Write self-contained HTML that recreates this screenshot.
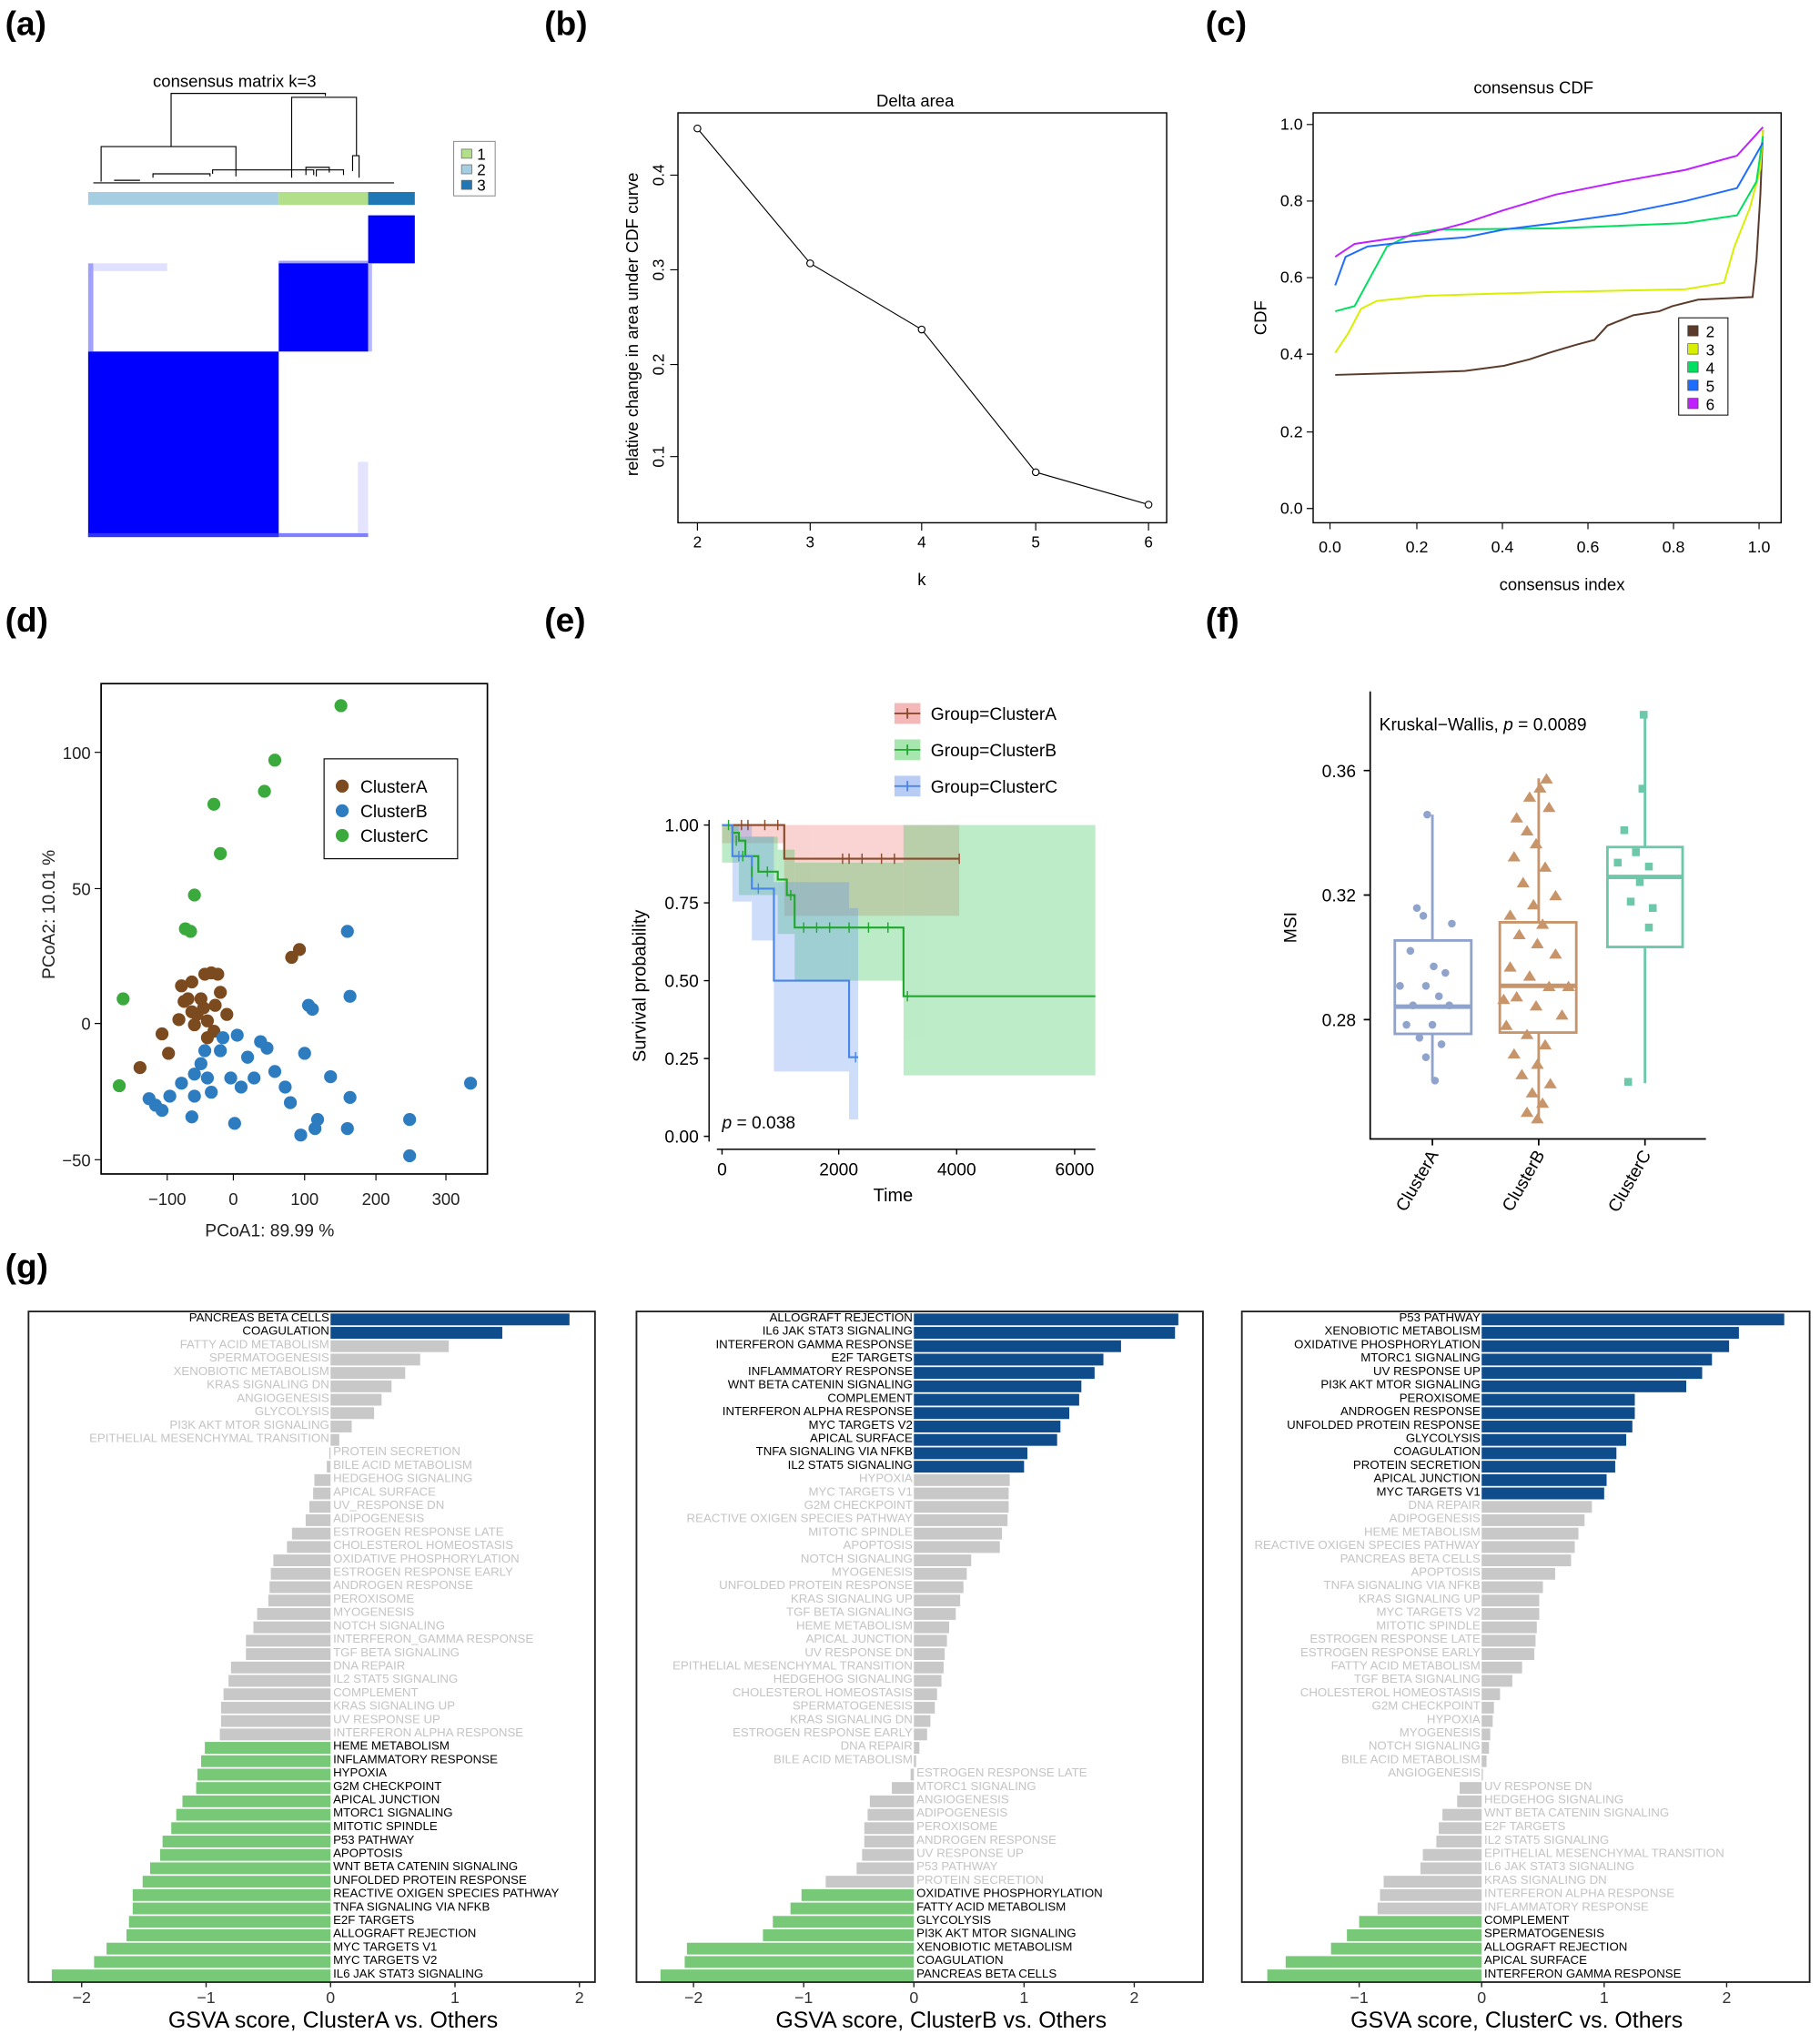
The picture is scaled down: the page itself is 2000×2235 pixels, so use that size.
<!DOCTYPE html>
<html><head><meta charset="utf-8"><style>
html,body{margin:0;padding:0;background:#fff}
svg{display:block}
text{font-family:"Liberation Sans",sans-serif}
.lab{font-size:26px;font-weight:bold}
.gs text{font-size:9.3px}
.e{text-anchor:end}
.g{fill:#c4c4c4}
</style></head><body>
<svg width="2000" height="2235" viewBox="0 0 1404 1568" preserveAspectRatio="none" xmlns="http://www.w3.org/2000/svg">
<rect width="1404" height="1568" fill="#fff"/>
<text class="lab" x="4" y="27">(a)</text>
<text class="lab" x="420" y="27">(b)</text>
<text class="lab" x="930" y="27">(c)</text>
<text class="lab" x="4" y="487">(d)</text>
<text class="lab" x="420" y="487">(e)</text>
<text class="lab" x="930" y="487">(f)</text>
<text class="lab" x="4" y="985">(g)</text>

<!-- (a) -->
<text x="181" y="67" font-size="13" text-anchor="middle">consensus matrix k=3</text>
<g stroke="#000" stroke-width="0.8" fill="none">
<path d="M132,113 V72 H251 V74"/>
<path d="M78,140 V113 H182 V136"/>
<path d="M225,137 V75 H275 V120"/>
<path d="M272,132 V120 H277 V137"/>
<path d="M118,137 V134 H162 V136"/>
<path d="M164,134 V131 H242 V135"/>
<path d="M236,135 V129 H254 V133"/>
<path d="M244,136 V131 H265 V135"/>
<path d="M72,141 H304 M88,139 H108"/>
</g>
<rect x="68" y="148" width="147" height="10" fill="#a6cee3"/>
<rect x="215" y="148" width="69" height="10" fill="#b2df8a"/>
<rect x="284" y="148" width="36" height="10" fill="#1f78b4"/>
<rect x="284" y="166" width="36" height="37" fill="#0000ff"/>
<rect x="215" y="201" width="69" height="3" fill="#a0a0ff"/>
<rect x="215" y="203" width="69" height="68" fill="#0000ff"/>
<rect x="284" y="203" width="3" height="68" fill="#b8b8ff"/>
<rect x="68" y="203" width="4" height="68" fill="#a0a0ff"/>
<rect x="72" y="203" width="57" height="6" fill="#e0e0ff"/>
<rect x="68" y="271" width="147" height="143" fill="#0000ff"/>
<rect x="215" y="411" width="69" height="3" fill="#8080ff"/>
<rect x="276" y="356" width="8" height="55" fill="#e4e4ff"/>
<rect x="68" y="411" width="147" height="3" fill="#3030ff"/>
<rect x="350" y="109" width="32" height="42" fill="#fff" stroke="#888" stroke-width="0.7"/>
<rect x="356" y="115" width="8" height="7" fill="#b2df8a" stroke="#666" stroke-width=".5"/>
<rect x="356" y="127" width="8" height="7" fill="#a6cee3" stroke="#666" stroke-width=".5"/>
<rect x="356" y="139" width="8" height="7" fill="#1f78b4" stroke="#666" stroke-width=".5"/>
<text x="368" y="123" font-size="12">1</text>
<text x="368" y="135" font-size="12">2</text>
<text x="368" y="147" font-size="12">3</text>

<!-- (b) -->
<text x="706" y="82" font-size="13" text-anchor="middle">Delta area</text>
<rect x="523" y="87" width="377" height="316" fill="none" stroke="#000" stroke-width="1"/>
<polyline points="538,99 625,203 711,254 799,364 886,389" fill="none" stroke="#000" stroke-width="0.8"/>
<g fill="#fff" stroke="#000" stroke-width="0.8">
<circle cx="538" cy="99" r="2.6"/><circle cx="625" cy="203" r="2.6"/><circle cx="711" cy="254" r="2.6"/><circle cx="799" cy="364" r="2.6"/><circle cx="886" cy="389" r="2.6"/></g>
<g stroke="#000" stroke-width="0.8"><path d="M538,403v6M625,403v6M711,403v6M799,403v6M886,403v6M523,135h-6M523,208h-6M523,281h-6M523,352h-6"/></g>
<g font-size="12" text-anchor="middle"><text x="538" y="422">2</text><text x="625" y="422">3</text><text x="711" y="422">4</text><text x="799" y="422">5</text><text x="886" y="422">6</text>
<text transform="translate(512,135) rotate(-90)">0.4</text><text transform="translate(512,208) rotate(-90)">0.3</text><text transform="translate(512,281) rotate(-90)">0.2</text><text transform="translate(512,352) rotate(-90)">0.1</text>
<text x="711" y="451" font-size="13">k</text>
<text transform="translate(492,250) rotate(-90)" font-size="13">relative change in area under CDF curve</text></g>

<!-- (c) -->
<text x="1183" y="72" font-size="13" text-anchor="middle">consensus CDF</text>
<rect x="1013" y="87" width="361" height="316" fill="none" stroke="#000" stroke-width="1"/>
<g stroke="#000" stroke-width="0.8"><path d="M1013,96h-5M1013,155h-5M1013,214h-5M1013,273h-5M1013,333h-5M1013,392h-5M1026,403v5M1093,403v5M1159,403v5M1225,403v5M1291,403v5M1357,403v5"/></g>
<g font-size="12.5"><g text-anchor="end"><text x="1005" y="100">1.0</text><text x="1005" y="159">0.8</text><text x="1005" y="218">0.6</text><text x="1005" y="277">0.4</text><text x="1005" y="337">0.2</text><text x="1005" y="396">0.0</text></g>
<g text-anchor="middle"><text x="1026" y="426">0.0</text><text x="1093" y="426">0.2</text><text x="1159" y="426">0.4</text><text x="1225" y="426">0.6</text><text x="1291" y="426">0.8</text><text x="1357" y="426">1.0</text>
<text x="1205" y="455" font-size="13">consensus index</text>
<text transform="translate(977,245) rotate(-90)" font-size="13">CDF</text></g></g>
<g fill="none" stroke-width="1.4">
<polyline stroke="#5a3a2a" points="1030,289 1100,287 1130,286 1160,282 1180,277 1195,272 1215,266 1230,262 1240,251 1260,243 1280,240 1290,236 1310,231 1352,229 1355,200 1358,150 1360,100"/>
<polyline stroke="#d8f000" points="1030,272 1040,257 1050,238 1062,232 1100,228 1200,225 1300,223 1330,218 1338,190 1350,160 1358,130 1360,100"/>
<polyline stroke="#00e060" points="1030,240 1045,236 1058,212 1070,190 1090,180 1110,177 1200,176 1300,172 1340,166 1355,140 1360,105"/>
<polyline stroke="#1e6cff" points="1030,220 1038,198 1055,190 1090,186 1130,183 1160,177 1200,172 1250,165 1300,155 1340,145 1360,110"/>
<polyline stroke="#c020ff" points="1030,198 1045,188 1100,180 1130,172 1160,162 1200,150 1250,140 1300,131 1340,120 1360,98"/>
</g>
<rect x="1295" y="245" width="38" height="75" fill="#fff" stroke="#000" stroke-width="0.7"/>
<g font-size="12" stroke="#333" stroke-width=".4">
<rect x="1302" y="251" width="8" height="8" fill="#5a3a2a"/><rect x="1302" y="265" width="8" height="8" fill="#d8f000"/><rect x="1302" y="279" width="8" height="8" fill="#00e060"/><rect x="1302" y="293" width="8" height="8" fill="#1e6cff"/><rect x="1302" y="307" width="8" height="8" fill="#c020ff"/></g>
<g font-size="12"><text x="1316" y="260">2</text><text x="1316" y="274">3</text><text x="1316" y="288">4</text><text x="1316" y="302">5</text><text x="1316" y="316">6</text></g>

<!-- (d) -->
<rect x="78" y="527" width="298" height="378" fill="none" stroke="#000" stroke-width="1.2"/>
<g stroke="#000" stroke-width="0.8"><path d="M78,580h-5M78,685h-5M78,789h-5M78,894h-5M129,905v5M180,905v5M235,905v5M290,905v5M344,905v5"/></g>
<g font-size="13" fill="#222"><g text-anchor="end"><text x="70" y="585">100</text><text x="70" y="690">50</text><text x="70" y="794">0</text><text x="70" y="899">−50</text></g>
<g text-anchor="middle"><text x="129" y="929">−100</text><text x="180" y="929">0</text><text x="235" y="929">100</text><text x="290" y="929">200</text><text x="344" y="929">300</text>
<text x="208" y="953" font-size="13.5">PCoA1:  89.99 %</text>
<text transform="translate(42,705) rotate(-90)" font-size="13.5">PCoA2:  10.01 %</text></g></g>
<g fill="#7b4a1e">
<circle cx="108" cy="823" r="5"/><circle cx="125" cy="797" r="5"/><circle cx="130" cy="812" r="5"/><circle cx="138" cy="786" r="5"/><circle cx="142" cy="772" r="5"/><circle cx="148" cy="780" r="5"/><circle cx="150" cy="790" r="5"/><circle cx="155" cy="770" r="5"/><circle cx="158" cy="751" r="5"/><circle cx="163" cy="750" r="5"/><circle cx="160" cy="800" r="5"/><circle cx="166" cy="775" r="5"/><circle cx="170" cy="765" r="5"/><circle cx="175" cy="782" r="5"/><circle cx="140" cy="760" r="5"/><circle cx="145" cy="770" r="5"/><circle cx="148" cy="757" r="5"/><circle cx="152" cy="782" r="5"/><circle cx="157" cy="777" r="5"/><circle cx="160" cy="787" r="5"/><circle cx="165" cy="795" r="5"/><circle cx="225" cy="738" r="5"/><circle cx="231" cy="732" r="5"/><circle cx="168" cy="751" r="5"/></g>
<g fill="#2e7cc0">
<circle cx="115" cy="847" r="5"/><circle cx="120" cy="852" r="5"/><circle cx="125" cy="856" r="5"/><circle cx="131" cy="845" r="5"/><circle cx="140" cy="835" r="5"/><circle cx="148" cy="861" r="5"/><circle cx="150" cy="828" r="5"/><circle cx="155" cy="820" r="5"/><circle cx="158" cy="810" r="5"/><circle cx="150" cy="845" r="5"/><circle cx="160" cy="831" r="5"/><circle cx="163" cy="842" r="5"/><circle cx="170" cy="810" r="5"/><circle cx="172" cy="800" r="5"/><circle cx="178" cy="831" r="5"/><circle cx="181" cy="866" r="5"/><circle cx="183" cy="798" r="5"/><circle cx="186" cy="838" r="5"/><circle cx="191" cy="815" r="5"/><circle cx="196" cy="831" r="5"/><circle cx="201" cy="803" r="5"/><circle cx="206" cy="808" r="5"/><circle cx="212" cy="826" r="5"/><circle cx="220" cy="838" r="5"/><circle cx="224" cy="850" r="5"/><circle cx="232" cy="875" r="5"/><circle cx="235" cy="812" r="5"/><circle cx="238" cy="775" r="5"/><circle cx="241" cy="778" r="5"/><circle cx="243" cy="870" r="5"/><circle cx="245" cy="863" r="5"/><circle cx="255" cy="830" r="5"/><circle cx="268" cy="718" r="5"/><circle cx="270" cy="768" r="5"/><circle cx="270" cy="846" r="5"/><circle cx="268" cy="870" r="5"/><circle cx="316" cy="863" r="5"/><circle cx="316" cy="891" r="5"/><circle cx="363" cy="835" r="5"/></g>
<g fill="#3aaa3c">
<circle cx="263" cy="544" r="5"/><circle cx="212" cy="586" r="5"/><circle cx="204" cy="610" r="5"/><circle cx="165" cy="620" r="5"/><circle cx="170" cy="658" r="5"/><circle cx="150" cy="690" r="5"/><circle cx="143" cy="716" r="5"/><circle cx="147" cy="718" r="5"/><circle cx="92" cy="837" r="5"/><circle cx="95" cy="770" r="5"/></g>
<rect x="250" y="585" width="103" height="77" fill="#fff" stroke="#000" stroke-width="0.8"/>
<circle cx="264" cy="606" r="5" fill="#7b4a1e"/><circle cx="264" cy="625" r="5" fill="#2e7cc0"/><circle cx="264" cy="644" r="5" fill="#3aaa3c"/>
<g font-size="13.5"><text x="278" y="611">ClusterA</text><text x="278" y="630">ClusterB</text><text x="278" y="649">ClusterC</text></g>

<!-- (e) -->
<rect x="690" y="542" width="20" height="16" fill="#f4b8b8"/><path d="M690,550h20M700,546v8" stroke="#8b4a2a" stroke-width="1.3"/>
<rect x="690" y="570" width="20" height="16" fill="#a8e6b0"/><path d="M690,578h20M700,574v8" stroke="#1fa82c" stroke-width="1.3"/>
<rect x="690" y="598" width="20" height="16" fill="#b8ccf4"/><path d="M690,606h20M700,602v8" stroke="#4a86e8" stroke-width="1.3"/>
<g font-size="13.5"><text x="718" y="555">Group=ClusterA</text><text x="718" y="583">Group=ClusterB</text><text x="718" y="611">Group=ClusterC</text></g>
<g opacity="0.35" fill="#f08080"><rect x="557" y="636" width="48" height="14"/><rect x="605" y="636" width="135" height="70"/></g>
<g opacity="0.35" fill="#40c860"><rect x="557" y="636" width="13" height="29"/><rect x="570" y="645" width="30" height="45"/><rect x="600" y="655" width="13" height="65"/><rect x="613" y="665" width="84" height="91"/><rect x="697" y="636" width="148" height="193"/></g>
<g opacity="0.3" fill="#6090f0"><rect x="565" y="636" width="15" height="59"/><rect x="580" y="645" width="17" height="80"/><rect x="597" y="680" width="58" height="146"/><rect x="655" y="700" width="7" height="163"/></g>
<g fill="none" stroke-width="1.5">
<path d="M557,636H605V662H740" stroke="#8b4a2a"/>
<path d="M557,636H565V642H570V648H575V660H585V672H600V678H607V690H613V715H697V768H845" stroke="#1fa82c"/>
<path d="M557,636H565V660H580V685H597V756H655V815H662" stroke="#4a86e8"/>
</g>
<g stroke-width="1" fill="none">
<path d="M572,632v8M577,632v8M590,632v8M600,632v8M650,658v8M655,658v8M665,658v8M680,658v8M690,658v8M740,658v8" stroke="#8b4a2a"/>
<path d="M562,632v8M568,644v8M573,656v8M580,668v8M592,668v8M610,686v8M620,711v8M630,711v8M640,711v8M655,711v8M670,711v8M685,711v8M700,764v8" stroke="#1fa82c"/>
<path d="M570,656v8M585,681v8M660,811v8" stroke="#4a86e8"/>
</g>
<g stroke="#000" stroke-width="1" fill="none"><path d="M547,632V880M553,886H845"/><path d="M547,636h-4M547,696h-4M547,756h-4M547,816h-4M547,876h-4M557,886v4M647,886v4M738,886v4M829,886v4"/></g>
<g font-size="13.5"><g text-anchor="end"><text x="539" y="641">1.00</text><text x="539" y="701">0.75</text><text x="539" y="761">0.50</text><text x="539" y="821">0.25</text><text x="539" y="881">0.00</text></g>
<g text-anchor="middle"><text x="557" y="906">0</text><text x="647" y="906">2000</text><text x="738" y="906">4000</text><text x="829" y="906">6000</text><text x="689" y="926" font-size="14">Time</text>
<text transform="translate(498,760) rotate(-90)" font-size="14">Survival probability</text></g>
<text x="557" y="870"><tspan font-style="italic">p</tspan> = 0.038</text></g>

<!-- (f) -->
<g stroke="#000" stroke-width="1.2" fill="none"><path d="M1057,533V878H1316"/><path d="M1057,594h-5M1057,690h-5M1057,786h-5M1105,878v5M1187,878v5M1269,878v5"/></g>
<g font-size="13.5"><g text-anchor="end"><text x="1046" y="599">0.36</text><text x="1046" y="695">0.32</text><text x="1046" y="791">0.28</text>
<text transform="translate(1110,890) rotate(-60)">ClusterA</text><text transform="translate(1192,890) rotate(-60)">ClusterB</text><text transform="translate(1274,890) rotate(-60)">ClusterC</text></g>
<text transform="translate(1000,715) rotate(-90)" text-anchor="middle">MSI</text>
<text x="1064" y="563">Kruskal−Wallis, <tspan font-style="italic">p</tspan> = 0.0089</text></g>
<g fill="none" stroke-width="2">
<g stroke="#8fa3cc"><rect x="1076" y="725" width="59" height="72"/><path d="M1105,725V628M1105,797V833"/><path d="M1076,776h59" stroke-width="3.5"/></g>
<g stroke="#c8956a"><rect x="1157" y="711" width="59" height="85"/><path d="M1187,711V600M1187,796V862"/><path d="M1157,760h59" stroke-width="3.5"/></g>
<g stroke="#6cc8a8"><rect x="1240" y="653" width="58" height="77"/><path d="M1269,653V551M1269,730V835"/><path d="M1240,676h58" stroke-width="3.5"/></g>
</g>
<g fill="#8fa3cc"><circle cx="1101" cy="628" r="3"/><circle cx="1093" cy="700" r="3"/><circle cx="1098" cy="706" r="3"/><circle cx="1120" cy="712" r="3"/><circle cx="1088" cy="733" r="3"/><circle cx="1106" cy="745" r="3"/><circle cx="1115" cy="750" r="3"/><circle cx="1080" cy="760" r="3"/><circle cx="1100" cy="760" r="3"/><circle cx="1110" cy="768" r="3"/><circle cx="1090" cy="775" r="3"/><circle cx="1118" cy="775" r="3"/><circle cx="1105" cy="790" r="3"/><circle cx="1095" cy="800" r="3"/><circle cx="1112" cy="805" r="3"/><circle cx="1100" cy="815" r="3"/><circle cx="1107" cy="833" r="3"/><circle cx="1085" cy="790" r="3"/></g>
<g fill="#c8956a">
<path d="M1193,596l5,8h-10z M1188,603l5,8h-10z M1180,610l5,8h-10z M1195,618l5,8h-10z M1170,626l5,8h-10z M1178,636l5,8h-10z M1185,646l5,8h-10z M1168,656l5,8h-10z M1192,664l5,8h-10z M1175,676l5,8h-10z M1200,686l5,8h-10z M1183,693l5,8h-10z M1165,701l5,8h-10z M1190,708l5,8h-10z M1172,716l5,8h-10z M1186,723l5,8h-10z M1200,731l5,8h-10z M1165,741l5,8h-10z M1180,748l5,8h-10z M1195,756l5,8h-10z M1170,764l5,8h-10z M1185,771l5,8h-10z M1205,778l5,8h-10z M1162,786l5,8h-10z M1178,793l5,8h-10z M1192,801l5,8h-10z M1168,808l5,8h-10z M1186,816l5,8h-10z M1174,824l5,8h-10z M1196,831l5,8h-10z M1182,838l5,8h-10z M1190,846l5,8h-10z M1178,853l5,8h-10z M1186,858l5,8h-10z M1210,756l5,8h-10z M1160,766l5,8h-10z"/></g>
<g fill="#6cc8a8"><rect x="1265" y="548" width="6" height="6"/><rect x="1264" y="605" width="6" height="6"/><rect x="1250" y="637" width="6" height="6"/><rect x="1259" y="654" width="6" height="6"/><rect x="1245" y="662" width="6" height="6"/><rect x="1269" y="665" width="6" height="6"/><rect x="1262" y="677" width="6" height="6"/><rect x="1255" y="692" width="6" height="6"/><rect x="1269" y="712" width="6" height="6"/><rect x="1272" y="697" width="6" height="6"/><rect x="1253" y="831" width="6" height="6"/></g>

<!-- (g) common frames -->
<g fill="none" stroke="#222" stroke-width="1.3">
<rect x="22" y="1011" width="437" height="517"/><rect x="491" y="1011" width="437" height="517"/><rect x="958" y="1011" width="438" height="517"/></g>
<g stroke="#222" stroke-width="1"><path d="M63,1528v4M159,1528v4M255,1528v4M351,1528v4M447,1528v4M535,1528v4M620,1528v4M705,1528v4M790,1528v4M875,1528v4M1048.5,1528v4M1143,1528v4M1237.5,1528v4M1332,1528v4"/></g>
<g font-size="12.5" fill="#333" text-anchor="middle">
<text x="63" y="1544">−2</text><text x="159" y="1544">−1</text><text x="255" y="1544">0</text><text x="351" y="1544">1</text><text x="447" y="1544">2</text>
<text x="535" y="1544">−2</text><text x="620" y="1544">−1</text><text x="705" y="1544">0</text><text x="790" y="1544">1</text><text x="875" y="1544">2</text>
<text x="1048.5" y="1544">−1</text><text x="1143" y="1544">0</text><text x="1237.5" y="1544">1</text><text x="1332" y="1544">2</text>
</g>
<g font-size="17.5" text-anchor="middle"><text x="257" y="1563">GSVA score, ClusterA vs. Others</text><text x="726" y="1563">GSVA score, ClusterB vs. Others</text><text x="1170" y="1563">GSVA score, ClusterC vs. Others</text></g>

<!-- g1 bars -->
<g transform="translate(255,1012.6) scale(96,10.32)">
<g fill="#0f4c8c"><rect x="0" y="0" width="1.92" height=".88"/><rect x="0" y="1" width="1.38" height=".88"/></g>
<g fill="#c8c8c8"><rect x="0" y="2" width=".95" height=".88"/><rect x="0" y="3" width=".72" height=".88"/><rect x="0" y="4" width=".6" height=".88"/><rect x="0" y="5" width=".49" height=".88"/><rect x="0" y="6" width=".41" height=".88"/><rect x="0" y="7" width=".35" height=".88"/><rect x="0" y="8" width=".17" height=".88"/><rect x="0" y="9" width=".07" height=".88"/>
<rect x="-.01" y="10" width=".01" height=".88"/><rect x="-.03" y="11" width=".03" height=".88"/><rect x="-.13" y="12" width=".13" height=".88"/><rect x="-.14" y="13" width=".14" height=".88"/><rect x="-.17" y="14" width=".17" height=".88"/><rect x="-.2" y="15" width=".2" height=".88"/><rect x="-.31" y="16" width=".31" height=".88"/><rect x="-.35" y="17" width=".35" height=".88"/><rect x="-.46" y="18" width=".46" height=".88"/><rect x="-.48" y="19" width=".48" height=".88"/><rect x="-.49" y="20" width=".49" height=".88"/><rect x="-.5" y="21" width=".5" height=".88"/><rect x="-.59" y="22" width=".59" height=".88"/><rect x="-.62" y="23" width=".62" height=".88"/><rect x="-.68" y="24" width=".68" height=".88"/><rect x="-.68" y="25" width=".68" height=".88"/><rect x="-.8" y="26" width=".8" height=".88"/><rect x="-.82" y="27" width=".82" height=".88"/><rect x="-.86" y="28" width=".86" height=".88"/><rect x="-.88" y="29" width=".88" height=".88"/><rect x="-.88" y="30" width=".88" height=".88"/><rect x="-.89" y="31" width=".89" height=".88"/></g>
<g fill="#77c977"><rect x="-1.01" y="32" width="1.01" height=".88"/><rect x="-1.04" y="33" width="1.04" height=".88"/><rect x="-1.07" y="34" width="1.07" height=".88"/><rect x="-1.08" y="35" width="1.08" height=".88"/><rect x="-1.19" y="36" width="1.19" height=".88"/><rect x="-1.24" y="37" width="1.24" height=".88"/><rect x="-1.28" y="38" width="1.28" height=".88"/><rect x="-1.35" y="39" width="1.35" height=".88"/><rect x="-1.37" y="40" width="1.37" height=".88"/><rect x="-1.45" y="41" width="1.45" height=".88"/><rect x="-1.51" y="42" width="1.51" height=".88"/><rect x="-1.59" y="43" width="1.59" height=".88"/><rect x="-1.59" y="44" width="1.59" height=".88"/><rect x="-1.62" y="45" width="1.62" height=".88"/><rect x="-1.64" y="46" width="1.64" height=".88"/><rect x="-1.8" y="47" width="1.8" height=".88"/><rect x="-1.9" y="48" width="1.9" height=".88"/><rect x="-2.24" y="49" width="2.24" height=".88"/></g>
</g>
<g class="gs" transform="translate(255,-2.5)">
<text class="e" x="-1" y="1021.2">PANCREAS BETA CELLS</text><text class="e" x="-1" y="1031.5">COAGULATION</text>
<g class="g"><text class="e" x="-1" y="1041.8">FATTY ACID METABOLISM</text><text class="e" x="-1" y="1052.2">SPERMATOGENESIS</text><text class="e" x="-1" y="1062.5">XENOBIOTIC METABOLISM</text><text class="e" x="-1" y="1072.8">KRAS SIGNALING DN</text><text class="e" x="-1" y="1083.1">ANGIOGENESIS</text><text class="e" x="-1" y="1093.4">GLYCOLYSIS</text><text class="e" x="-1" y="1103.8">PI3K AKT MTOR SIGNALING</text><text class="e" x="-1" y="1114.1">EPITHELIAL MESENCHYMAL TRANSITION</text>
<text x="2" y="1124.4">PROTEIN SECRETION</text><text x="2" y="1134.7">BILE ACID METABOLISM</text><text x="2" y="1145.0">HEDGEHOG SIGNALING</text><text x="2" y="1155.4">APICAL SURFACE</text><text x="2" y="1165.7">UV_RESPONSE DN</text><text x="2" y="1176.0">ADIPOGENESIS</text><text x="2" y="1186.3">ESTROGEN RESPONSE LATE</text><text x="2" y="1196.6">CHOLESTEROL HOMEOSTASIS</text><text x="2" y="1207.0">OXIDATIVE PHOSPHORYLATION</text><text x="2" y="1217.3">ESTROGEN RESPONSE EARLY</text><text x="2" y="1227.6">ANDROGEN RESPONSE</text><text x="2" y="1237.9">PEROXISOME</text><text x="2" y="1248.2">MYOGENESIS</text><text x="2" y="1258.6">NOTCH SIGNALING</text><text x="2" y="1268.9">INTERFERON_GAMMA RESPONSE</text><text x="2" y="1279.2">TGF BETA SIGNALING</text><text x="2" y="1289.5">DNA REPAIR</text><text x="2" y="1299.8">IL2 STAT5 SIGNALING</text><text x="2" y="1310.2">COMPLEMENT</text><text x="2" y="1320.5">KRAS SIGNALING UP</text><text x="2" y="1330.8">UV RESPONSE UP</text><text x="2" y="1341.1">INTERFERON ALPHA RESPONSE</text></g>
<text x="2" y="1351.4">HEME METABOLISM</text><text x="2" y="1361.8">INFLAMMATORY RESPONSE</text><text x="2" y="1372.1">HYPOXIA</text><text x="2" y="1382.4">G2M CHECKPOINT</text><text x="2" y="1392.7">APICAL JUNCTION</text><text x="2" y="1403.0">MTORC1 SIGNALING</text><text x="2" y="1413.4">MITOTIC SPINDLE</text><text x="2" y="1423.7">P53 PATHWAY</text><text x="2" y="1434.0">APOPTOSIS</text><text x="2" y="1444.3">WNT BETA CATENIN SIGNALING</text><text x="2" y="1454.6">UNFOLDED PROTEIN RESPONSE</text><text x="2" y="1465.0">REACTIVE OXIGEN SPECIES PATHWAY</text><text x="2" y="1475.3">TNFA SIGNALING VIA NFKB</text><text x="2" y="1485.6">E2F TARGETS</text><text x="2" y="1495.9">ALLOGRAFT REJECTION</text><text x="2" y="1506.2">MYC TARGETS V1</text><text x="2" y="1516.6">MYC TARGETS V2</text><text x="2" y="1526.9">IL6 JAK STAT3 SIGNALING</text>
</g>

<!-- g2 bars -->
<g transform="translate(705,1012.6) scale(85,10.32)">
<g fill="#0f4c8c"><rect x="0" y="0" width="2.4" height=".88"/><rect x="0" y="1" width="2.37" height=".88"/><rect x="0" y="2" width="1.88" height=".88"/><rect x="0" y="3" width="1.72" height=".88"/><rect x="0" y="4" width="1.64" height=".88"/><rect x="0" y="5" width="1.52" height=".88"/><rect x="0" y="6" width="1.5" height=".88"/><rect x="0" y="7" width="1.41" height=".88"/><rect x="0" y="8" width="1.33" height=".88"/><rect x="0" y="9" width="1.3" height=".88"/><rect x="0" y="10" width="1.03" height=".88"/><rect x="0" y="11" width="1.0" height=".88"/></g>
<g fill="#c8c8c8"><rect x="0" y="12" width=".87" height=".88"/><rect x="0" y="13" width=".86" height=".88"/><rect x="0" y="14" width=".86" height=".88"/><rect x="0" y="15" width=".85" height=".88"/><rect x="0" y="16" width=".8" height=".88"/><rect x="0" y="17" width=".78" height=".88"/><rect x="0" y="18" width=".52" height=".88"/><rect x="0" y="19" width=".48" height=".88"/><rect x="0" y="20" width=".45" height=".88"/><rect x="0" y="21" width=".42" height=".88"/><rect x="0" y="22" width=".38" height=".88"/><rect x="0" y="23" width=".32" height=".88"/><rect x="0" y="24" width=".3" height=".88"/><rect x="0" y="25" width=".28" height=".88"/><rect x="0" y="26" width=".27" height=".88"/><rect x="0" y="27" width=".25" height=".88"/><rect x="0" y="28" width=".21" height=".88"/><rect x="0" y="29" width=".19" height=".88"/><rect x="0" y="30" width=".15" height=".88"/><rect x="0" y="31" width=".12" height=".88"/><rect x="0" y="32" width=".05" height=".88"/><rect x="0" y="33" width=".02" height=".88"/>
<rect x="-.03" y="34" width=".03" height=".88"/><rect x="-.2" y="35" width=".2" height=".88"/><rect x="-.4" y="36" width=".4" height=".88"/><rect x="-.42" y="37" width=".42" height=".88"/><rect x="-.45" y="38" width=".45" height=".88"/><rect x="-.45" y="39" width=".45" height=".88"/><rect x="-.47" y="40" width=".47" height=".88"/><rect x="-.52" y="41" width=".52" height=".88"/><rect x="-.8" y="42" width=".8" height=".88"/></g>
<g fill="#77c977"><rect x="-1.02" y="43" width="1.02" height=".88"/><rect x="-1.12" y="44" width="1.12" height=".88"/><rect x="-1.28" y="45" width="1.28" height=".88"/><rect x="-1.37" y="46" width="1.37" height=".88"/><rect x="-2.06" y="47" width="2.06" height=".88"/><rect x="-2.08" y="48" width="2.08" height=".88"/><rect x="-2.3" y="49" width="2.3" height=".88"/></g>
</g>
<g class="gs" transform="translate(705,-2.5)">
<text class="e" x="-1" y="1021.2">ALLOGRAFT REJECTION</text><text class="e" x="-1" y="1031.5">IL6 JAK STAT3 SIGNALING</text><text class="e" x="-1" y="1041.8">INTERFERON GAMMA RESPONSE</text><text class="e" x="-1" y="1052.2">E2F TARGETS</text><text class="e" x="-1" y="1062.5">INFLAMMATORY RESPONSE</text><text class="e" x="-1" y="1072.8">WNT BETA CATENIN SIGNALING</text><text class="e" x="-1" y="1083.1">COMPLEMENT</text><text class="e" x="-1" y="1093.4">INTERFERON ALPHA RESPONSE</text><text class="e" x="-1" y="1103.8">MYC TARGETS V2</text><text class="e" x="-1" y="1114.1">APICAL SURFACE</text><text class="e" x="-1" y="1124.4">TNFA  SIGNALING VIA NFKB</text><text class="e" x="-1" y="1134.7">IL2 STAT5 SIGNALING</text>
<g class="g"><text class="e" x="-1" y="1145.0">HYPOXIA</text><text class="e" x="-1" y="1155.4">MYC TARGETS V1</text><text class="e" x="-1" y="1165.7">G2M CHECKPOINT</text><text class="e" x="-1" y="1176.0">REACTIVE OXIGEN SPECIES PATHWAY</text><text class="e" x="-1" y="1186.3">MITOTIC SPINDLE</text><text class="e" x="-1" y="1196.6">APOPTOSIS</text><text class="e" x="-1" y="1207.0">NOTCH SIGNALING</text><text class="e" x="-1" y="1217.3">MYOGENESIS</text><text class="e" x="-1" y="1227.6">UNFOLDED PROTEIN RESPONSE</text><text class="e" x="-1" y="1237.9">KRAS SIGNALING UP</text><text class="e" x="-1" y="1248.2">TGF BETA SIGNALING</text><text class="e" x="-1" y="1258.6">HEME METABOLISM</text><text class="e" x="-1" y="1268.9">APICAL JUNCTION</text><text class="e" x="-1" y="1279.2">UV RESPONSE DN</text><text class="e" x="-1" y="1289.5">EPITHELIAL MESENCHYMAL TRANSITION</text><text class="e" x="-1" y="1299.8">HEDGEHOG SIGNALING</text><text class="e" x="-1" y="1310.2">CHOLESTEROL HOMEOSTASIS</text><text class="e" x="-1" y="1320.5">SPERMATOGENESIS</text><text class="e" x="-1" y="1330.8">KRAS SIGNALING DN</text><text class="e" x="-1" y="1341.1">ESTROGEN RESPONSE EARLY</text><text class="e" x="-1" y="1351.4">DNA REPAIR</text><text class="e" x="-1" y="1361.8">BILE ACID METABOLISM</text>
<text x="2" y="1372.1">ESTROGEN RESPONSE LATE</text><text x="2" y="1382.4">MTORC1 SIGNALING</text><text x="2" y="1392.7">ANGIOGENESIS</text><text x="2" y="1403.0">ADIPOGENESIS</text><text x="2" y="1413.4">PEROXISOME</text><text x="2" y="1423.7">ANDROGEN RESPONSE</text><text x="2" y="1434.0">UV RESPONSE UP</text><text x="2" y="1444.3">P53 PATHWAY</text><text x="2" y="1454.6">PROTEIN SECRETION</text></g>
<text x="2" y="1465.0">OXIDATIVE PHOSPHORYLATION</text><text x="2" y="1475.3">FATTY ACID METABOLISM</text><text x="2" y="1485.6">GLYCOLYSIS</text><text x="2" y="1495.9">PI3K AKT MTOR SIGNALING</text><text x="2" y="1506.2">XENOBIOTIC METABOLISM</text><text x="2" y="1516.6">COAGULATION</text><text x="2" y="1526.9">PANCREAS BETA CELLS</text>
</g>

<!-- g3 bars -->
<g transform="translate(1143,1012.6) scale(94.5,10.32)">
<g fill="#0f4c8c"><rect x="0" y="0" width="2.47" height=".88"/><rect x="0" y="1" width="2.1" height=".88"/><rect x="0" y="2" width="2.02" height=".88"/><rect x="0" y="3" width="1.88" height=".88"/><rect x="0" y="4" width="1.8" height=".88"/><rect x="0" y="5" width="1.67" height=".88"/><rect x="0" y="6" width="1.25" height=".88"/><rect x="0" y="7" width="1.25" height=".88"/><rect x="0" y="8" width="1.23" height=".88"/><rect x="0" y="9" width="1.18" height=".88"/><rect x="0" y="10" width="1.1" height=".88"/><rect x="0" y="11" width="1.09" height=".88"/><rect x="0" y="12" width="1.02" height=".88"/><rect x="0" y="13" width="1.0" height=".88"/></g>
<g fill="#c8c8c8"><rect x="0" y="14" width=".9" height=".88"/><rect x="0" y="15" width=".84" height=".88"/><rect x="0" y="16" width=".79" height=".88"/><rect x="0" y="17" width=".76" height=".88"/><rect x="0" y="18" width=".73" height=".88"/><rect x="0" y="19" width=".6" height=".88"/><rect x="0" y="20" width=".5" height=".88"/><rect x="0" y="21" width=".47" height=".88"/><rect x="0" y="22" width=".47" height=".88"/><rect x="0" y="23" width=".45" height=".88"/><rect x="0" y="24" width=".44" height=".88"/><rect x="0" y="25" width=".43" height=".88"/><rect x="0" y="26" width=".33" height=".88"/><rect x="0" y="27" width=".25" height=".88"/><rect x="0" y="28" width=".15" height=".88"/><rect x="0" y="29" width=".1" height=".88"/><rect x="0" y="30" width=".09" height=".88"/><rect x="0" y="31" width=".07" height=".88"/><rect x="0" y="32" width=".06" height=".88"/><rect x="0" y="33" width=".04" height=".88"/><rect x="0" y="34" width=".01" height=".88"/>
<rect x="-.18" y="35" width=".18" height=".88"/><rect x="-.2" y="36" width=".2" height=".88"/><rect x="-.32" y="37" width=".32" height=".88"/><rect x="-.35" y="38" width=".35" height=".88"/><rect x="-.37" y="39" width=".37" height=".88"/><rect x="-.48" y="40" width=".48" height=".88"/><rect x="-.5" y="41" width=".5" height=".88"/><rect x="-.8" y="42" width=".8" height=".88"/><rect x="-.83" y="43" width=".83" height=".88"/><rect x="-.85" y="44" width=".85" height=".88"/></g>
<g fill="#77c977"><rect x="-1.0" y="45" width="1.0" height=".88"/><rect x="-1.1" y="46" width="1.1" height=".88"/><rect x="-1.23" y="47" width="1.23" height=".88"/><rect x="-1.6" y="48" width="1.6" height=".88"/><rect x="-1.75" y="49" width="1.75" height=".88"/></g>
</g>
<g class="gs" transform="translate(1143,-2.5)">
<text class="e" x="-1" y="1021.2">P53 PATHWAY</text><text class="e" x="-1" y="1031.5">XENOBIOTIC METABOLISM</text><text class="e" x="-1" y="1041.8">OXIDATIVE PHOSPHORYLATION</text><text class="e" x="-1" y="1052.2">MTORC1 SIGNALING</text><text class="e" x="-1" y="1062.5">UV RESPONSE UP</text><text class="e" x="-1" y="1072.8">PI3K AKT MTOR SIGNALING</text><text class="e" x="-1" y="1083.1">PEROXISOME</text><text class="e" x="-1" y="1093.4">ANDROGEN RESPONSE</text><text class="e" x="-1" y="1103.8">UNFOLDED PROTEIN RESPONSE</text><text class="e" x="-1" y="1114.1">GLYCOLYSIS</text><text class="e" x="-1" y="1124.4">COAGULATION</text><text class="e" x="-1" y="1134.7">PROTEIN SECRETION</text><text class="e" x="-1" y="1145.0">APICAL JUNCTION</text><text class="e" x="-1" y="1155.4">MYC TARGETS V1</text>
<g class="g"><text class="e" x="-1" y="1165.7">DNA REPAIR</text><text class="e" x="-1" y="1176.0">ADIPOGENESIS</text><text class="e" x="-1" y="1186.3">HEME METABOLISM</text><text class="e" x="-1" y="1196.6">REACTIVE OXIGEN SPECIES PATHWAY</text><text class="e" x="-1" y="1207.0">PANCREAS BETA CELLS</text><text class="e" x="-1" y="1217.3">APOPTOSIS</text><text class="e" x="-1" y="1227.6">TNFA SIGNALING VIA NFKB</text><text class="e" x="-1" y="1237.9">KRAS SIGNALING UP</text><text class="e" x="-1" y="1248.2">MYC TARGETS V2</text><text class="e" x="-1" y="1258.6">MITOTIC SPINDLE</text><text class="e" x="-1" y="1268.9">ESTROGEN RESPONSE LATE</text><text class="e" x="-1" y="1279.2">ESTROGEN RESPONSE EARLY</text><text class="e" x="-1" y="1289.5">FATTY ACID METABOLISM</text><text class="e" x="-1" y="1299.8">TGF BETA SIGNALING</text><text class="e" x="-1" y="1310.2">CHOLESTEROL HOMEOSTASIS</text><text class="e" x="-1" y="1320.5">G2M CHECKPOINT</text><text class="e" x="-1" y="1330.8">HYPOXIA</text><text class="e" x="-1" y="1341.1">MYOGENESIS</text><text class="e" x="-1" y="1351.4">NOTCH SIGNALING</text><text class="e" x="-1" y="1361.8">BILE ACID METABOLISM</text><text class="e" x="-1" y="1372.1">ANGIOGENESIS</text>
<text x="2" y="1382.4">UV RESPONSE DN</text><text x="2" y="1392.7">HEDGEHOG SIGNALING</text><text x="2" y="1403.0">WNT BETA CATENIN SIGNALING</text><text x="2" y="1413.4">E2F TARGETS</text><text x="2" y="1423.7">IL2 STAT5 SIGNALING</text><text x="2" y="1434.0">EPITHELIAL MESENCHYMAL TRANSITION</text><text x="2" y="1444.3">IL6 JAK STAT3 SIGNALING</text><text x="2" y="1454.6">KRAS SIGNALING DN</text><text x="2" y="1465.0">INTERFERON ALPHA RESPONSE</text><text x="2" y="1475.3">INFLAMMATORY RESPONSE</text></g>
<text x="2" y="1485.6">COMPLEMENT</text><text x="2" y="1495.9">SPERMATOGENESIS</text><text x="2" y="1506.2">ALLOGRAFT REJECTION</text><text x="2" y="1516.6">APICAL SURFACE</text><text x="2" y="1526.9">INTERFERON GAMMA RESPONSE</text>
</g>
</svg>
</body></html>
